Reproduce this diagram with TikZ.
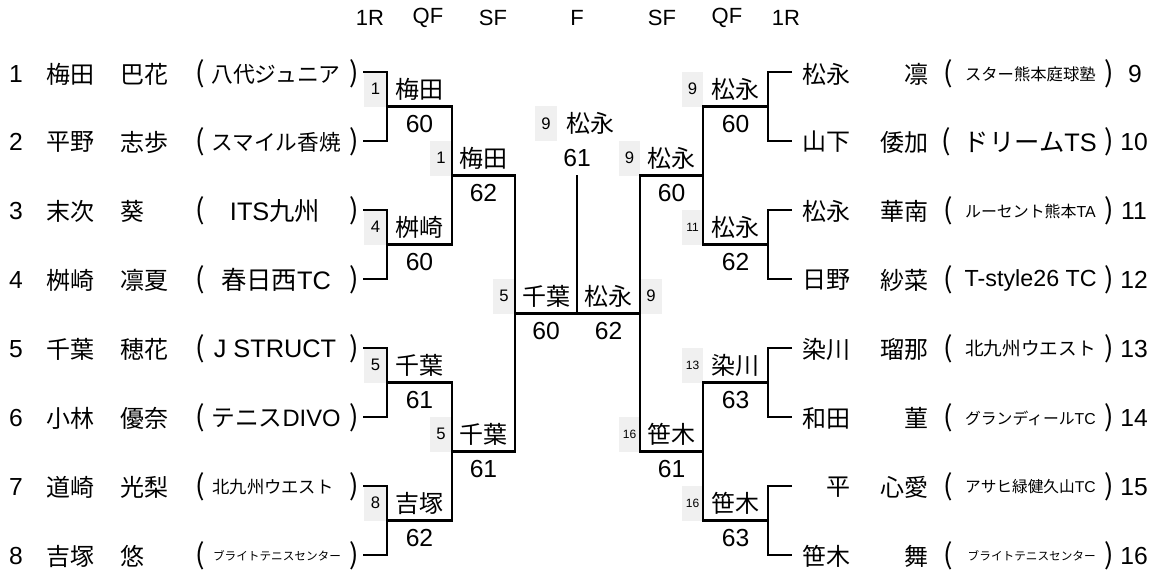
\documentclass[tikz,border=0pt]{standalone}
\usepackage{fontspec}
\usepackage{graphicx}
\setmainfont{Liberation Sans}
\newfontfamily\cj{Noto Sans CJK JP}
\definecolor{seedgray}{RGB}{240,240,240}
\newcommand\tmx[2]{\resizebox{#1}{!}{#2}}
\begin{document}
\begin{tikzpicture}[x=0.75pt,y=-0.75pt,
  xline/.style={line width=2.2pt, line join=miter},
  xname/.style={font=\cj\fontsize{18}{20}\selectfont, inner sep=0pt},
  xlat/.style={font=\fontsize{18.5}{20}\selectfont, inner sep=0pt},
  xhead/.style={font=\fontsize{16.5}{18}\selectfont, inner sep=0pt},
  xseed/.style={fill=seedgray, inner sep=0pt, minimum width=16.5pt, minimum height=25.9pt, font=\fontsize{12.5}{14}\selectfont},
  xseeds/.style={xseed, font=\fontsize{9}{10}\selectfont},
  xteam/.style={font=\fontsize{19}{20}\selectfont, inner sep=0pt},
  xpar/.style={font=\cj\fontsize{21}{22}\selectfont, inner sep=0pt}
]
\fill[white] (0,0) rectangle (1165,573);
\useasboundingbox (0,0) rectangle (1165,573);

% header
\node[xhead] (h1) at (370,18) {1R};
\node[xhead] (h2) at (428,18) {QF};
\node[xhead] (h3) at (493,18) {SF};
\node[xhead] (h4) at (577,18) {F};
\node[xhead] (h5) at (662,18) {SF};
\node[xhead] (h6) at (727,18) {QF};
\node[xhead] (h7) at (786,18) {1R};

% left players
\node[xlat] (n1) at (16,74) {1};
\node[xname,anchor=west] (s1) at (46,74) {梅田};
\node[xname,anchor=west] (g1) at (120,74) {巴花};
\node[xpar] (o1) at (200,74) {(};
\node[xteam] (t1) at (276,74) {\tmx{97pt}{\cj 八代ジュニア}};
\node[xpar] (c1) at (354,74) {)};

\node[xlat] (n2) at (16,142) {2};
\node[xname,anchor=west] (s2) at (46,142) {平野};
\node[xname,anchor=west] (g2) at (120,142) {志歩};
\node[xpar] (o2) at (200,142) {(};
\node[xteam] (t2) at (276,142) {\tmx{97pt}{\cj スマイル香焼}};
\node[xpar] (c2) at (354,142) {)};

\node[xlat] (n3) at (16,211) {3};
\node[xname,anchor=west] (s3) at (46,211) {末次};
\node[xname,anchor=west] (g3) at (120,211) {葵};
\node[xpar] (o3) at (200,211) {(};
\node[xteam] (t3) at (275,211) {ITS{\cj 九州}};
\node[xpar] (c3) at (354,211) {)};

\node[xlat] (n4) at (16,280) {4};
\node[xname,anchor=west] (s4) at (46,280) {桝崎};
\node[xname,anchor=west] (g4) at (120,280) {凛夏};
\node[xpar] (o4) at (200,280) {(};
\node[xteam] (t4) at (276,280) {{\cj 春日西}TC};
\node[xpar] (c4) at (354,280) {)};

\node[xlat] (n5) at (16,349) {5};
\node[xname,anchor=west] (s5) at (46,349) {千葉};
\node[xname,anchor=west] (g5) at (120,349) {穂花};
\node[xpar] (o5) at (200,349) {(};
\node[xteam] (t5) at (275,349) {J STRUCT};
\node[xpar] (c5) at (354,349) {)};

\node[xlat] (n6) at (16,418) {6};
\node[xname,anchor=west] (s6) at (46,418) {小林};
\node[xname,anchor=west] (g6) at (120,418) {優奈};
\node[xpar] (o6) at (200,418) {(};
\node[xteam] (t6) at (276,418) {\tmx{97pt}{{\cj テニス}DIVO}};
\node[xpar] (c6) at (354,418) {)};

\node[xlat] (n7) at (16,487) {7};
\node[xname,anchor=west] (s7) at (46,487) {道崎};
\node[xname,anchor=west] (g7) at (120,487) {光梨};
\node[xpar] (o7) at (200,487) {(};
\node[xteam] (t7) at (273,487) {\tmx{91pt}{\cj 北九州ウエスト}};
\node[xpar] (c7) at (354,487) {)};

\node[xlat] (n8) at (16,556) {8};
\node[xname,anchor=west] (s8) at (46,556) {吉塚};
\node[xname,anchor=west] (g8) at (120,556) {悠};
\node[xpar] (o8) at (200,556) {(};
\node[xteam] (t8) at (277,556) {\tmx{96pt}{\cj ブライトテニスセンター}};
\node[xpar] (c8) at (354,556) {)};

% right players
\node[xname,anchor=east] (s9) at (851,74) {松永};
\node[xname,anchor=east] (g9) at (929,74) {凛};
\node[xpar] (o9) at (948,74) {(};
\node[xteam,anchor=east] (t9) at (1096,74) {\tmx{98pt}{\cj スター熊本庭球塾}};
\node[xpar] (c9) at (1109,74) {)};
\node[xlat] (n9) at (1135,74) {9};

\node[xname,anchor=east] (s10) at (851,142) {山下};
\node[xname,anchor=east] (g10) at (929,142) {倭加};
\node[xpar] (o10) at (946,142) {(};
\node[xteam,anchor=east] (t10) at (1097,142) {{\cj ドリーム}TS};
\node[xpar] (c10) at (1109,142) {)};
\node[xlat] (n10) at (1134,142) {10};

\node[xname,anchor=east] (s11) at (851,211) {松永};
\node[xname,anchor=east] (g11) at (929,211) {華南};
\node[xpar] (o11) at (948,211) {(};
\node[xteam,anchor=east] (t11) at (1096,211) {\tmx{98pt}{{\cj ルーセント熊本}TA}};
\node[xpar] (c11) at (1109,211) {)};
\node[xlat] (n11) at (1134,211) {11};

\node[xname,anchor=east] (s12) at (851,280) {日野};
\node[xname,anchor=east] (g12) at (929,280) {紗菜};
\node[xpar] (o12) at (948,280) {(};
\node[xteam,anchor=east] (t12) at (1097,280) {\tmx{99pt}{T-style26 TC}};
\node[xpar] (c12) at (1109,280) {)};
\node[xlat] (n12) at (1134,280) {12};

\node[xname,anchor=east] (s13) at (851,349) {染川};
\node[xname,anchor=east] (g13) at (929,349) {瑠那};
\node[xpar] (o13) at (948,349) {(};
\node[xteam,anchor=east] (t13) at (1096,349) {\tmx{98pt}{\cj 北九州ウエスト}};
\node[xpar] (c13) at (1109,349) {)};
\node[xlat] (n13) at (1134,349) {13};

\node[xname,anchor=east] (s14) at (851,418) {和田};
\node[xname,anchor=east] (g14) at (929,418) {菫};
\node[xpar] (o14) at (948,418) {(};
\node[xteam,anchor=east] (t14) at (1096,418) {\tmx{98pt}{{\cj グランディール}TC}};
\node[xpar] (c14) at (1109,418) {)};
\node[xlat] (n14) at (1134,418) {14};

\node[xname,anchor=east] (s15) at (851,487) {平};
\node[xname,anchor=east] (g15) at (929,487) {心愛};
\node[xpar] (o15) at (948,487) {(};
\node[xteam,anchor=east] (t15) at (1096,487) {\tmx{98pt}{{\cj アサヒ緑健久山}TC}};
\node[xpar] (c15) at (1109,487) {)};
\node[xlat] (n15) at (1134,487) {15};

\node[xname,anchor=east] (s16) at (851,556) {笹木};
\node[xname,anchor=east] (g16) at (929,556) {舞};
\node[xpar] (o16) at (948,556) {(};
\node[xteam,anchor=east] (t16) at (1096,556) {\tmx{96pt}{\cj ブライトテニスセンター}};
\node[xpar] (c16) at (1109,556) {)};
\node[xlat] (n16) at (1134,556) {16};

% seed boxes
\node[xseed, minimum width=17.25pt] (d1) at (375.5,89.25) {1};
\node[xseed, minimum width=17.25pt] (d4) at (375.5,227.25) {4};
\node[xseed, minimum width=17.25pt] (d5) at (375.5,365.25) {5};
\node[xseed, minimum width=17.25pt] (d8) at (375.5,503.25) {8};
\node[xseed] (e1) at (441,158.25) {1};
\node[xseed] (e5) at (441,434.25) {5};
\node[xseed] (ch) at (546,123.75) {9};
\node[xseed] (f5) at (504,296.25) {5};
\node[xseed] (f9) at (651,296.25) {9};
\node[xseed, minimum width=15.75pt] (e9) at (629.5,158.25) {9};
\node[xseeds, minimum width=15.75pt] (e16) at (629.5,434.25) {16};
\node[xseed, minimum width=15.75pt] (d9) at (692.5,89.25) {9};
\node[xseeds, minimum width=15.75pt] (d11) at (692.5,227.25) {11};
\node[xseeds, minimum width=15.75pt] (d13) at (692.5,365.25) {13};
\node[xseeds, minimum width=15.75pt] (d16) at (692.5,503.25) {16};

% winner labels and scores
\node[xname] (w1) at (419.5,89.25) {梅田};
\node[xlat] (r1) at (419.5,123.75) {60};
\node[xname] (w2) at (419.5,227.25) {桝崎};
\node[xlat] (r2) at (419.5,261.75) {60};
\node[xname] (w3) at (419.5,365.25) {千葉};
\node[xlat] (r3) at (419.5,399.75) {61};
\node[xname] (w4) at (419.5,503.25) {吉塚};
\node[xlat] (r4) at (419.5,537.75) {62};
\node[xname] (w5) at (483.5,158.25) {梅田};
\node[xlat] (r5) at (483.5,192.75) {62};
\node[xname] (w6) at (483.5,434.25) {千葉};
\node[xlat] (r6) at (483.5,468.75) {61};
\node[xname] (w7) at (546,296.25) {千葉};
\node[xlat] (r7) at (546,330.75) {60};
\node[xname] (w8) at (608.5,296.25) {松永};
\node[xlat] (r8) at (608.5,330.75) {62};
\node[xname] (w9) at (590,123.75) {松永};
\node[xlat] (r9) at (577,158.25) {61};
\node[xname] (w10) at (671.5,158.25) {松永};
\node[xlat] (r10) at (671.5,192.75) {60};
\node[xname] (w11) at (671.5,434.25) {笹木};
\node[xlat] (r11) at (671.5,468.75) {61};
\node[xname] (w12) at (735.5,89.25) {松永};
\node[xlat] (r12) at (735.5,123.75) {60};
\node[xname] (w13) at (735.5,227.25) {松永};
\node[xlat] (r13) at (735.5,261.75) {62};
\node[xname] (w14) at (735.5,365.25) {染川};
\node[xlat] (r14) at (735.5,399.75) {63};
\node[xname] (w15) at (735.5,503.25) {笹木};
\node[xlat] (r15) at (735.5,537.75) {63};

% bracket coordinates
\coordinate (L1) at (363,72);  \coordinate (L2) at (363,141);
\coordinate (L3) at (363,210); \coordinate (L4) at (363,279);
\coordinate (L5) at (363,348); \coordinate (L6) at (363,417);
\coordinate (L7) at (363,486); \coordinate (L8) at (363,555);
\coordinate (R9) at (792,72);  \coordinate (R10) at (792,141);
\coordinate (R11) at (792,210); \coordinate (R12) at (792,279);
\coordinate (R13) at (792,348); \coordinate (R14) at (792,417);
\coordinate (R15) at (792,486); \coordinate (R16) at (792,555);
\coordinate (QL1) at (387,106.5); \coordinate (QL2) at (387,244.5);
\coordinate (QL3) at (387,382.5); \coordinate (QL4) at (387,520.5);
\coordinate (AL1) at (452,106.5); \coordinate (AL2) at (452,244.5);
\coordinate (AL3) at (452,382.5); \coordinate (AL4) at (452,520.5);
\coordinate (SL1) at (452,175.5); \coordinate (SL2) at (452,451.5);
\coordinate (BL1) at (515,175.5); \coordinate (BL2) at (515,451.5);
\coordinate (FL) at (515,313.5); \coordinate (FM) at (577,313.5);
\coordinate (FT) at (577,175.5); \coordinate (FR) at (640,313.5);
\coordinate (BR1) at (640,175.5); \coordinate (BR2) at (640,451.5);
\coordinate (SR1) at (703,175.5); \coordinate (SR2) at (703,451.5);
\coordinate (AR1) at (703,106.5); \coordinate (AR2) at (703,244.5);
\coordinate (AR3) at (703,382.5); \coordinate (AR4) at (703,520.5);
\coordinate (QR1) at (768,106.5); \coordinate (QR2) at (768,244.5);
\coordinate (QR3) at (768,382.5); \coordinate (QR4) at (768,520.5);

% bracket lines
\draw[xline] (L1) -| (QL1) |- (L2);
\draw[xline] (L3) -| (QL2) |- (L4);
\draw[xline] (L5) -| (QL3) |- (L6);
\draw[xline] (L7) -| (QL4) |- (L8);
\draw[xline] (QL1) -- (AL1) -- (AL2) -- (QL2);
\draw[xline] (QL3) -- (AL3) -- (AL4) -- (QL4);
\draw[xline] (SL1) -- (BL1) -- (BL2) -- (SL2);
\draw[xline] (FL) -- (FR);
\draw[xline] (FT) -- (FM);
\draw[xline] (SR1) -- (BR1) -- (BR2) -- (SR2);
\draw[xline] (QR1) -- (AR1) -- (AR2) -- (QR2);
\draw[xline] (QR3) -- (AR3) -- (AR4) -- (QR4);
\draw[xline] (R9) -| (QR1) |- (R10);
\draw[xline] (R11) -| (QR2) |- (R12);
\draw[xline] (R13) -| (QR3) |- (R14);
\draw[xline] (R15) -| (QR4) |- (R16);
\end{tikzpicture}
\end{document}
